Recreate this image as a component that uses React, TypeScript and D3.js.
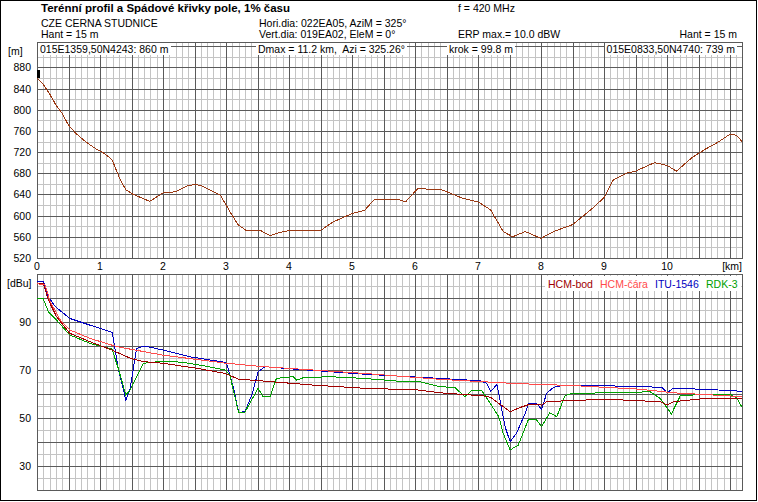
import React, { useLayoutEffect, useRef, useState } from "react";
import * as d3 from "d3";

const W = 758;
const H = 502;

// terrain profile, km along path / height in m
const terrainKm = [0, 0.1, 0.2, 0.31, 0.39, 0.5, 0.62, 0.79, 0.95, 1.05, 1.19, 1.32, 1.41, 1.53, 1.79, 2.0, 2.19, 2.38, 2.51, 2.62, 2.91, 3.06, 3.19, 3.32, 3.55, 3.7, 3.85, 4.0, 4.5, 4.7, 5.0, 5.2, 5.35, 5.75, 5.85, 6.05, 6.2, 6.4, 6.55, 6.75, 7.0, 7.2, 7.4, 7.55, 7.75, 8.0, 8.2, 8.5, 8.8, 9.0, 9.15, 9.35, 9.5, 9.65, 9.8, 10.0, 10.15, 10.4, 10.6, 10.8, 11.0, 11.1, 11.2];
const terrainM = [860, 848, 830, 807, 795, 771, 755, 738, 725, 719, 706, 668, 649, 640, 627, 643, 645, 656, 659, 656, 639, 608, 583, 572, 572, 562, 568, 572, 572, 588, 604, 610, 630, 630, 626, 652, 650, 650, 643, 633, 626, 611, 570, 560, 570, 557, 570, 583, 612, 634, 668, 680, 684, 692, 700, 695, 684, 710, 725, 738, 754, 752, 739];

// field strength curves, km / dBu
const hcmBodKm = [0, 0.1, 0.18, 0.31, 0.52, 0.84, 1.19, 1.48, 1.69, 2.0, 2.54, 2.98, 3.2, 3.59, 4.39, 5.18, 6.03, 6.4, 7.09, 7.2, 7.33, 7.51, 7.67, 7.83, 8.01, 8.09, 8.41, 9.04, 9.89, 10.0, 10.1, 10.63, 11.2];
const hcmBodDbu = [106, 106, 99.2, 92.2, 85.3, 81.8, 78.3, 74.9, 73.5, 72.8, 70.7, 68.6, 66.2, 65.4, 63.7, 62.4, 61.7, 60.5, 59.2, 58.6, 56.1, 52.6, 54.4, 55.8, 55.4, 56.8, 57.2, 57.8, 56.8, 55.4, 56.8, 58.2, 58.2];

const hcmCaraKm = [0, 0.13, 0.21, 0.37, 0.52, 0.84, 1.27, 2.0, 3.01, 3.59, 5.18, 6.4, 7.56, 8.51, 9.57, 10.1, 11.2];
const hcmCaraDbu = [106, 105.4, 98.5, 90.8, 86.7, 83.2, 79.7, 76.2, 72.8, 71.4, 68.6, 66.1, 64.4, 63.5, 62, 60.5, 58.9];

const ituKm = [0, 0.1, 0.18, 0.29, 0.52, 0.84, 1.19, 1.21, 1.29, 1.41, 1.48, 1.58, 1.71, 2.0, 2.43, 2.98, 3.01, 3.12, 3.2, 3.3, 3.41, 3.51, 3.62, 4.12, 4.65, 5.18, 5.71, 6.4, 7.03, 7.14, 7.2, 7.3, 7.34, 7.43, 7.51, 7.61, 7.75, 7.8, 7.93, 8.01, 8.09, 8.2, 8.38, 9.25, 9.92, 10.0, 10.1, 10.52, 11.05, 11.2];
const ituDbu = [107, 107, 100.5, 96.4, 91.5, 88.7, 85.7, 83.2, 70.7, 57.5, 62.4, 79, 80, 78.3, 75.5, 73.2, 72.8, 62.4, 52.4, 52.6, 59.6, 69.3, 71.4, 70.3, 69.3, 68.3, 67.5, 66.5, 65.5, 64.4, 61, 64, 58.6, 46.4, 40.1, 43.6, 52, 56.1, 56.1, 53.6, 60.3, 62.8, 63.7, 63.3, 62.8, 60.5, 62.4, 62, 61.4, 61];

const rdkKm = [0, 0.1, 0.18, 0.31, 0.52, 0.84, 1.19, 1.29, 1.41, 1.48, 1.69, 2.0, 2.32, 2.64, 2.98, 3.06, 3.2, 3.3, 3.51, 3.59, 3.7, 3.8, 4.07, 4.12, 4.23, 4.65, 5.18, 5.71, 6.03, 6.4, 6.63, 6.79, 6.9, 7.06, 7.16, 7.33, 7.4, 7.51, 7.64, 7.8, 7.93, 8.01, 8.14, 8.25, 8.38, 8.46, 8.94, 9.36, 9.73, 9.89, 10.07, 10.21, 10.63, 11.0, 11.11, 11.2];
const rdkDbu = [99.6, 99.6, 94.3, 90.8, 84.6, 81.1, 78.7, 70.7, 59.6, 61.7, 72.8, 73.7, 73.2, 71.8, 70, 67.9, 52.4, 52.4, 62.4, 58.9, 58.9, 66.5, 67.2, 65.8, 66.8, 67.2, 66.5, 65.4, 65.4, 63, 62.8, 58.9, 61.4, 61.4, 57.5, 50.5, 43.6, 36.7, 38.7, 49.4, 49.2, 46.4, 52.2, 50.5, 59.2, 60, 60.5, 60.5, 61, 58.2, 51.7, 59.2, 60, 60, 58.2, 54];

const legendNames = ["HCM-bod", "HCM-čára", "ITU-1546", "RDK-3"];
const legendColors = ["#a00000", "#ff4a4a", "#0000c0", "#00a000"];

const heightTicks = [520, 560, 600, 640, 680, 720, 760, 800, 840, 880];
const dbuTicks = [30, 50, 70, 90];
const kmTicks = [0, 1, 2, 3, 4, 5, 6, 7, 8, 9, 10];

const hant = 15;
const FONT = "'Liberation Sans', Arial, sans-serif";
const LIGHT = "#c4c4c4";
const DARK = "#5a5a5a";

function BoxText({ x, y, anchor = "start", children }: any) {
  const ref = useRef<SVGTextElement>(null);
  const [bb, setBb] = useState<any>(null);
  useLayoutEffect(() => {
    if (ref.current) {
      const b = ref.current.getBBox();
      setBb({ x: b.x, w: b.width });
    }
  }, []);
  return (
    <g>
      {bb && <rect x={bb.x - 2} y={43} width={bb.w + 4} height={12} fill="#fff" />}
      <text ref={ref} x={x} y={y} textAnchor={anchor} style={{ whiteSpace: "pre" }}>{children}</text>
    </g>
  );
}

export default function App() {
  const x = d3.scaleLinear().domain([0, 11.2]).range([37, 742.6]);
  const yT = d3.scaleLinear().domain([520, 928]).range([258, 42]);
  const yF = d3.scaleLinear().domain([20, 110]).range([490, 274]);
  const left = 37, right = 742;

  const terrainLine = d3.line<number>().x((_, i) => x(terrainKm[i])).y(d => yT(d));
  const fieldLine = (km: number[]) => d3.line<number>().x((_, i) => x(km[i])).y(d => yF(d));

  const kmGrid = d3.range(0, 112).map(i => i / 10);
  const mGrid = d3.range(520, 929, 20);
  const dbuGrid = d3.range(20, 111, 5);

  const vGrid = (top: number, bottom: number, dark: boolean) =>
    kmGrid.filter(k => (Math.round(k * 10) % 5 === 0) === dark).map(k => (
      <line key={`v${top}-${k}`} x1={Math.round(x(k)) + 0.5} x2={Math.round(x(k)) + 0.5} y1={top} y2={bottom} stroke={dark ? DARK : LIGHT} />
    ));

  const series = [
    { km: ituKm, v: ituDbu, c: legendColors[2] },
    { km: rdkKm, v: rdkDbu, c: legendColors[3] },
    { km: hcmBodKm, v: hcmBodDbu, c: legendColors[0] },
    { km: hcmCaraKm, v: hcmCaraDbu, c: legendColors[1] },
  ];

  const legendX = [548, 600, 655, 706];

  return (
    <svg width={W} height={H} style={{ position: "absolute", left: 0, top: 0, background: "#fff" }}
      fontFamily={FONT} fontSize={10.5} shapeRendering="crispEdges">
      <defs>
        <clipPath id="clipTop"><rect x={left} y={42} width={right - left} height={216} /></clipPath>
        <clipPath id="clipBot"><rect x={left} y={274} width={right - left} height={216} /></clipPath>
      </defs>
      <rect x={0.5} y={0.5} width={756} height={500} fill="#fff" stroke="#000" />

      {/* header */}
      <text x={41} y={12} fontWeight="bold" fontSize={11.5}>Terénní profil a Spádové křivky pole, 1% času</text>
      <text x={41} y={27}>CZE CERNA STUDNICE</text>
      <text x={41} y={38}>Hant = 15 m</text>
      <text x={259} y={27}>Hori.dia: 022EA05, AziM = 325°</text>
      <text x={259} y={38}>Vert.dia: 019EA02, EleM = 0°</text>
      <text x={458} y={12}>f = 420 MHz</text>
      <text x={458} y={38}>ERP max.= 10.0 dBW</text>
      <text x={737} y={38} textAnchor="end">Hant = 15 m</text>

      {/* terrain panel grid */}
      {mGrid.filter(m => (m - 520) % 40 !== 0).map(m => (
        <line key={`hm${m}`} x1={left} x2={right} y1={Math.round(yT(m)) + 0.5} y2={Math.round(yT(m)) + 0.5} stroke={LIGHT} />
      ))}
      {vGrid(42, 258, false)}
      {mGrid.filter(m => (m - 520) % 40 === 0).map(m => (
        <line key={`hM${m}`} x1={left} x2={right} y1={Math.round(yT(m)) + 0.5} y2={Math.round(yT(m)) + 0.5} stroke={DARK} />
      ))}
      {vGrid(42, 258, true)}
      <rect x={left + 0.5} y={42.5} width={right - left} height={216} fill="none" stroke={DARK} />

      <BoxText x={40} y={53}>015E1359,50N4243: 860 m</BoxText>
      <BoxText x={258} y={53}>{"Dmax = 11.2 km,  Azi = 325.26°"}</BoxText>
      <BoxText x={449} y={53}>krok = 99.8 m</BoxText>
      <BoxText x={735} y={53} anchor="end">015E0833,50N4740: 739 m</BoxText>

      <path d={terrainLine(terrainM) || ""} fill="none" stroke="#9a3812" clipPath="url(#clipTop)" />
      <rect x={x(0)} y={yT(terrainM[0] + hant)} width={3} height={yT(terrainM[0]) - yT(terrainM[0] + hant)} fill="#000" />

      <text x={8} y={55}>[m]</text>
      {heightTicks.map(t => (
        <text key={`ht${t}`} x={31} y={yT(t) + 4} textAnchor="end">{t}</text>
      ))}
      {kmTicks.map(t => (
        <text key={`kt${t}`} x={x(t)} y={270} textAnchor="middle">{t}</text>
      ))}
      <text x={742} y={270} textAnchor="end">[km]</text>

      {/* field strength panel grid */}
      {dbuGrid.filter(v => v % 10 !== 0).map(v => (
        <line key={`hf${v}`} x1={left} x2={right} y1={Math.round(yF(v)) + 0.5} y2={Math.round(yF(v)) + 0.5} stroke={LIGHT} />
      ))}
      {vGrid(274, 490, false)}
      {dbuGrid.filter(v => v % 10 === 0).map(v => (
        <line key={`hF${v}`} x1={left} x2={right} y1={Math.round(yF(v)) + 0.5} y2={Math.round(yF(v)) + 0.5} stroke={DARK} />
      ))}
      {vGrid(274, 490, true)}
      <rect x={left + 0.5} y={274.5} width={right - left} height={216} fill="none" stroke={DARK} />

      <g clipPath="url(#clipBot)">
        {series.map((s, i) => (
          <path key={`s${i}`} d={fieldLine(s.km)(s.v) || ""} fill="none" stroke={s.c} />
        ))}
      </g>

      <text x={7} y={287}>[dBu]</text>
      {dbuTicks.map(t => (
        <text key={`ft${t}`} x={31} y={yF(t) + 4} textAnchor="end">{t}</text>
      ))}

      <rect x={545} y={276} width={196} height={15} fill="#fff" />
      {legendNames.map((n, i) => (
        <text key={n} x={legendX[i]} y={288} fill={legendColors[i]}>{n}</text>
      ))}
    </svg>
  );
}
